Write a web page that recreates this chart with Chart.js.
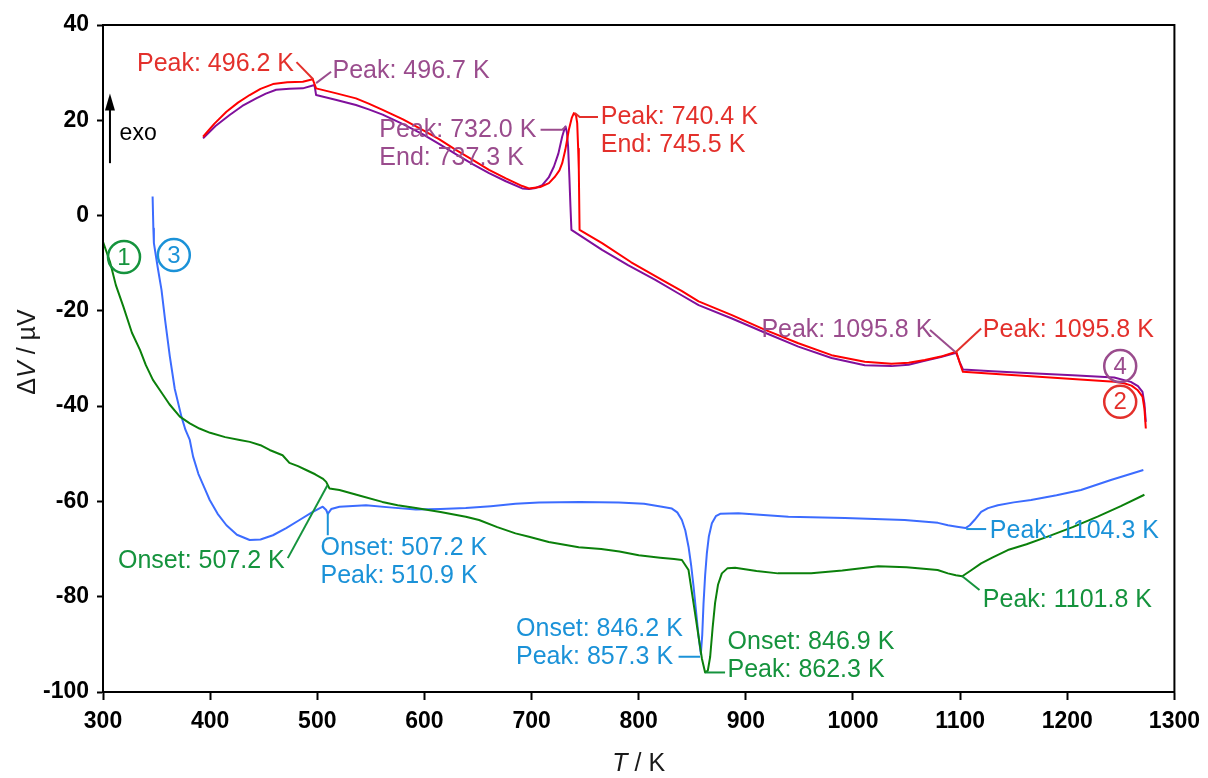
<!DOCTYPE html>
<html>
<head>
<meta charset="utf-8">
<script src="https://cdn.jsdelivr.net/npm/chart.js@4/dist/chart.umd.min.js"></script>
<style>
  html, body { margin: 0; padding: 0; background: #fff; }
  canvas { display: block; }
</style>
</head>
<body>
<canvas id="dtaChart" width="1208" height="778"></canvas>
<script>
// run 1 (green)
const t1 = [300, 306.5, 312, 319, 327, 334.5, 340, 346.6, 353, 362, 371.7, 381, 390, 400, 414, 427.6, 437, 447, 455.5, 467.6, 474, 482, 489.6, 498, 505, 508.3, 511.4, 520.7, 540, 560.7, 575, 592, 615, 638.6, 651, 668, 685, 697.6, 716, 744, 765, 782, 800, 820, 833, 840.3, 846.5, 851.2, 855.9, 859, 862, 864.5, 866.7, 869, 871.3, 874, 877.6, 883, 890, 910, 930, 961, 990, 1023.5, 1050, 1079, 1088.6, 1096, 1102, 1110, 1119.6, 1130, 1144.5, 1162, 1181.7, 1205, 1228.3, 1250, 1272];
const v1 = [-5.5, -9.7, -14.6, -19.1, -24.6, -28.2, -31.4, -34.5, -36.6, -39.6, -42.2, -43.6, -44.7, -45.6, -46.5, -47.1, -47.5, -48.2, -49.2, -50.3, -51.9, -52.6, -53.4, -54.3, -55.2, -55.9, -57.3, -57.6, -58.8, -60.1, -60.8, -61.4, -62.2, -63.2, -63.9, -65.4, -66.7, -67.4, -68.5, -69.6, -70.0, -70.5, -71.3, -71.8, -72.1, -72.3, -74.4, -81.4, -88.4, -93.0, -95.9, -95.5, -92.6, -86.5, -81.3, -77.5, -75.1, -74.0, -73.9, -74.6, -75.1, -75.1, -74.5, -73.6, -73.8, -74.4, -75.1, -75.5, -75.7, -74.5, -73.0, -71.8, -70.2, -69.0, -67.4, -65.4, -63.2, -61.0, -58.6];

// run 2 (red)
const t2 = [393.4, 404, 415.2, 426, 436.9, 447, 458.6, 472, 486.5, 495.8, 498.9, 517, 536.1, 548, 561, 580, 598.2, 614, 629.3, 645, 660.3, 676, 691.3, 697.6, 708, 716.2, 722, 726, 728.6, 731.5, 734.8, 737.5, 739.5, 741.5, 742.6, 743.5, 744.1, 744.8, 765.8, 793, 821.7, 840, 855.9, 887, 918, 949, 980, 1011, 1036, 1052, 1067, 1082, 1096.4, 1099.5, 1102.6, 1130, 1166.2, 1205, 1243.8, 1253, 1260, 1265.5, 1270.2, 1272, 1273.3];
const v2 = [16.55, 19.3, 21.8, 23.7, 25.3, 26.6, 27.6, 28.0, 28.1, 28.6, 26.7, 25.7, 24.6, 23.5, 22.2, 20.2, 18.0, 16.0, 13.8, 11.7, 9.6, 7.8, 6.2, 5.7, 6.0, 6.8, 8.2, 9.5, 11.0, 13.8, 18.0, 20.5, 21.5, 21.0, 19.4, 14.0, 9.6, -3.0, -5.8, -9.8, -13.5, -15.8, -18.0, -20.9, -24.0, -26.8, -29.3, -30.7, -31.1, -30.9, -30.3, -29.6, -28.6, -30.8, -32.8, -33.2, -33.7, -34.3, -34.9, -35.2, -35.7, -36.6, -38.0, -40.5, -44.7];

// run 3 (blue)
const t3 = [346.3, 347, 347.5, 351, 354.6, 358, 362.4, 367, 373.2, 377, 381, 384.1, 389, 395, 399.6, 407, 415.2, 425, 436.9, 447, 458.6, 471, 483.4, 495, 505.1, 508.3, 509.8, 513, 520.7, 545.5, 570, 592, 615, 638.6, 662, 685, 706.9, 745, 781.4, 805, 821.7, 831, 836, 840.3, 843.5, 846.5, 849, 851.2, 853.5, 855.9, 858, 859.3, 860.5, 862, 863.6, 865.5, 868.3, 872, 876, 893, 939.7, 992.4, 1048.2, 1079.3, 1088.6, 1097, 1105, 1109, 1113.4, 1119.6, 1126, 1135.2, 1150, 1166.2, 1190, 1212.8, 1240.7, 1271];
const v3 = [4.0, -2.7, -5.8, -10.8, -15.6, -22.0, -29.6, -36.4, -42.2, -45.0, -47.1, -50.6, -54.2, -57.3, -59.7, -62.6, -65.0, -67.0, -68.1, -68.0, -67.1, -65.6, -63.9, -62.3, -61.1, -61.8, -62.6, -61.6, -61.1, -60.8, -61.3, -61.7, -61.6, -61.4, -61.0, -60.5, -60.2, -60.1, -60.2, -60.5, -61.1, -61.5, -62.3, -63.9, -66.1, -69.5, -73.5, -77.9, -83.0, -88.4, -92.0, -88.0, -81.4, -75.5, -70.9, -67.3, -64.6, -63.1, -62.6, -62.5, -63.2, -63.5, -63.9, -64.5, -65.0, -65.3, -65.6, -65.0, -63.9, -62.2, -61.4, -60.8, -60.2, -59.7, -58.7, -57.6, -55.5, -53.4];

// run 4 (purple)
const t4 = [393.4, 405, 418.2, 430, 443, 452, 461.6, 474, 486.5, 497.4, 498.9, 517, 536.1, 548, 561, 580, 598.2, 614, 629.3, 645, 660.3, 676, 691.3, 697.6, 704, 710, 716, 720.9, 725, 728.6, 730.5, 731.7, 733, 734.1, 735.3, 736.3, 737.2, 765.8, 790, 815.5, 836, 855.9, 887, 918, 949, 980, 1011, 1036, 1052, 1067, 1082, 1096.4, 1099.5, 1102.6, 1130, 1166.2, 1205, 1243.8, 1259.3, 1266, 1270.2, 1272, 1273.3];
const v4 = [16.2, 18.8, 21.1, 23.0, 24.6, 25.6, 26.4, 26.6, 26.7, 27.4, 25.3, 24.3, 23.2, 22.3, 21.2, 19.2, 17.1, 15.0, 12.9, 10.8, 8.9, 7.2, 5.7, 5.6, 5.8, 6.4, 8.0, 10.3, 13.0, 16.6, 18.0, 18.7, 17.5, 14.5, 8.0, 1.9, -3.0, -7.2, -10.4, -13.5, -16.2, -18.8, -21.6, -24.6, -27.5, -29.9, -31.4, -31.6, -31.3, -30.5, -29.7, -28.8, -30.7, -32.3, -32.7, -33.1, -33.5, -34.0, -34.9, -35.8, -37.0, -39.5, -43.3];

const xTicks = [300, 400, 500, 600, 700, 800, 900, 1000, 1100, 1200, 1300];
const yTicks = [-100, -80, -60, -40, -20, 0, 20, 40];

const RED = '#ff0000', RED_TXT = '#e3302b';
const PUR = '#80109c', PUR_TXT = '#9a4c8d';
const GRN = '#0b800b', GRN_TXT = '#15933d';
const BLU = '#3c6cff', BLU_TXT = '#1b92d8';

// peak / onset labels: left edge of the text block and leader line, in data units
const notes = [
  { color: RED_TXT, lines: ['Peak: 496.2 K'], at: [331.7, 31.8], leader: [[480.6, 32.2], [496.2, 28.6]] },
  { color: PUR_TXT, lines: ['Peak: 496.7 K'], at: [514.2, 30.3], leader: [[498.9, 27.8], [512.9, 30.2]] },
  { color: PUR_TXT, lines: ['Peak: 732.0 K', 'End: 737.3 K'], at: [557.9, 17.9], leader: [[708.4, 18.0], [728.6, 18.0], [732, 18.7]] },
  { color: RED_TXT, lines: ['Peak: 740.4 K', 'End: 745.5 K'], at: [764.6, 20.7], leader: [[740.4, 21.5], [745, 20.7], [762, 20.7]] },
  { color: PUR_TXT, lines: ['Peak: 1095.8 K'], at: [914.5, -24.0], leader: [[1071.9, -24.0], [1095.8, -28.7]] },
  { color: RED_TXT, lines: ['Peak: 1095.8 K'], at: [1121.2, -24.0], leader: [[1119.6, -23.7], [1095.8, -28.7]] },
  { color: GRN_TXT, lines: ['Onset: 507.2 K'], at: [314, -72.5], leader: [[472.5, -71.9], [509.5, -56.6]] },
  { color: BLU_TXT, lines: ['Onset: 507.2 K', 'Peak: 510.9 K'], at: [503, -69.8], leader: [[509.8, -62.4], [509.8, -67.1]] },
  { color: BLU_TXT, lines: ['Onset: 846.2 K', 'Peak: 857.3 K'], at: [685.5, -86.8], leader: [[837.2, -92.6], [857.3, -92.6]] },
  { color: GRN_TXT, lines: ['Onset: 846.9 K', 'Peak: 862.3 K'], at: [882.9, -89.5], leader: [[862.3, -95.9], [880.6, -95.9]] },
  { color: BLU_TXT, lines: ['Peak: 1104.3 K'], at: [1127.7, -66.2], leader: [[1105.7, -65.8], [1124.3, -65.8]] },
  { color: GRN_TXT, lines: ['Peak: 1101.8 K'], at: [1121.2, -80.7], leader: [[1102, -75.7], [1118.1, -78.6]] }
];

// run numbers in circles
const runMarks = [
  { n: '1', color: GRN_TXT, at: [319.6, -8.7] },
  { n: '3', color: BLU_TXT, at: [366.1, -8.3] },
  { n: '4', color: PUR_TXT, at: [1249.4, -31.6] },
  { n: '2', color: RED_TXT, at: [1249.4, -39.1] }
];

const FONT = 'Arial, "Liberation Sans", sans-serif';

function pts(t, v) {
  return t.map((x, i) => ({ x: x, y: v[i] }));
}

function run(label, t, v, color) {
  return {
    label: label,
    data: pts(t, v),
    showLine: true,
    borderColor: color,
    borderWidth: 2,
    borderJoinStyle: 'round',
    pointRadius: 0,
    tension: 0,
    fill: false
  };
}

const decorations = {
  id: 'decorations',
  afterDatasetsDraw(chart) {
    const ctx = chart.ctx;
    const xs = chart.scales.x, ys = chart.scales.y;
    const px = v => xs.getPixelForValue(v), py = v => ys.getPixelForValue(v);
    const area = chart.chartArea;
    ctx.save();

    // leaders and labels
    ctx.font = '25px ' + FONT;
    ctx.textBaseline = 'middle';
    ctx.textAlign = 'left';
    notes.forEach(a => {
      ctx.strokeStyle = a.color;
      ctx.lineWidth = 2;
      ctx.beginPath();
      a.leader.forEach((p, i) => {
        if (i === 0) ctx.moveTo(px(p[0]), py(p[1]));
        else ctx.lineTo(px(p[0]), py(p[1]));
      });
      ctx.stroke();
      ctx.fillStyle = a.color;
      a.lines.forEach((s, i) => ctx.fillText(s, px(a.at[0]), py(a.at[1]) + i * 28));
    });

    // circled run numbers
    ctx.font = '24px ' + FONT;
    ctx.textAlign = 'center';
    runMarks.forEach(m => {
      const cx = px(m.at[0]), cy = py(m.at[1]);
      ctx.strokeStyle = m.color;
      ctx.lineWidth = 2.5;
      ctx.beginPath();
      ctx.arc(cx, cy, 16, 0, Math.PI * 2);
      ctx.stroke();
      ctx.fillStyle = m.color;
      ctx.fillText(m.n, cx, cy + 1);
    });

    // exo arrow
    const ax = px(306.5), ay0 = py(11), ay1 = py(25);
    ctx.strokeStyle = '#000';
    ctx.fillStyle = '#000';
    ctx.lineWidth = 2;
    ctx.beginPath();
    ctx.moveTo(ax, ay0);
    ctx.lineTo(ax, ay1 + 8);
    ctx.stroke();
    ctx.beginPath();
    ctx.moveTo(ax, ay1 - 3);
    ctx.lineTo(ax - 5, ay1 + 14);
    ctx.lineTo(ax + 5, ay1 + 14);
    ctx.closePath();
    ctx.fill();
    ctx.font = '23px ' + FONT;
    ctx.textAlign = 'left';
    ctx.fillText('exo', px(315.5), py(17.1));

    // frame
    ctx.strokeStyle = '#000';
    ctx.lineWidth = 2;
    ctx.strokeRect(area.left, area.top, area.right - area.left, area.bottom - area.top);

    // axis titles with italic symbols
    ctx.textBaseline = 'middle';
    ctx.fillStyle = '#1a1a1a';
    const drawParts = (parts, x, y) => {
      let w = 0;
      parts.forEach(p => { ctx.font = p[1] + ' 25px ' + FONT; w += ctx.measureText(p[0]).width; });
      let cur = x - w / 2;
      ctx.textAlign = 'left';
      parts.forEach(p => {
        ctx.font = p[1] + ' 25px ' + FONT;
        ctx.fillText(p[0], cur, y);
        cur += ctx.measureText(p[0]).width;
      });
    };
    drawParts([['T', 'italic'], [' / K', 'normal']], (area.left + area.right) / 2, 764);
    ctx.save();
    ctx.translate(28, 352);
    ctx.rotate(-Math.PI / 2);
    drawParts([['\u0394', 'normal'], ['V', 'italic'], [' / \u00b5V', 'normal']], 0, 0);
    ctx.restore();

    ctx.restore();
  }
};

new Chart(document.getElementById('dtaChart'), {
  type: 'scatter',
  data: {
    datasets: [
      run('1', t1, v1, GRN),
      run('3', t3, v3, BLU),
      run('2', t2, v2, RED),
      run('4', t4, v4, PUR)
    ]
  },
  options: {
    responsive: false,
    animation: false,
    layout: { padding: { left: 0, right: 31, top: 25, bottom: 0 } },
    plugins: {
      legend: { display: false },
      tooltip: { enabled: false }
    },
    scales: {
      x: {
        type: 'linear',
        min: 300,
        max: 1300,
        afterBuildTicks: s => { s.ticks = xTicks.map(v => ({ value: v })); },
        afterFit: s => { s.height = 86; },
        ticks: { color: '#000', font: { family: FONT, size: 23, weight: 'bold' }, padding: 8, maxRotation: 0, callback: v => String(v) },
        grid: { drawOnChartArea: false, drawTicks: true, tickLength: 8, tickWidth: 2, color: '#000' },
        border: { display: true, color: '#000', width: 2 }
      },
      y: {
        type: 'linear',
        min: -100,
        max: 40,
        afterBuildTicks: s => { s.ticks = yTicks.map(v => ({ value: v })); },
        afterFit: s => { s.width = 103; },
        ticks: { color: '#000', font: { family: FONT, size: 23, weight: 'bold' }, padding: 8, callback: v => String(v) },
        grid: { drawOnChartArea: false, drawTicks: true, tickLength: 6, tickWidth: 2, color: '#000' },
        border: { display: true, color: '#000', width: 2 }
      }
    }
  },
  plugins: [decorations]
});
</script>
</body>
</html>
